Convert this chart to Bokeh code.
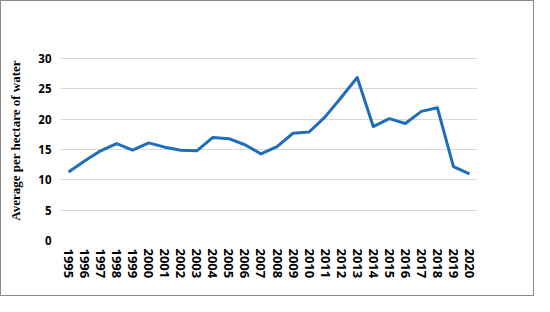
from bokeh.plotting import figure
from bokeh.models import Range1d, FixedTicker
from bokeh.embed import file_html
from bokeh.resources import INLINE

years = [str(y) for y in range(1995, 2021)]
values = [11.3, 13.1, 14.8, 16.0, 14.9, 16.1, 15.4, 14.9, 14.8, 17.0, 16.8, 15.8, 14.3,
          15.5, 17.7, 17.9, 20.4, 23.6, 26.9, 18.8, 20.1, 19.3, 21.3, 21.9, 12.2, 11.0]
y_ticks = [0, 5, 10, 15, 20, 25, 30]
y_label = "Average per hectare of water"

p = figure(width=534, height=296, x_range=years, y_range=Range1d(0, 33),
           output_backend="svg", toolbar_location=None,
           min_border_left=59, min_border_right=58, min_border_top=39, min_border_bottom=57)
p.styles = {"border": "1px solid #8a8a8a"}
p.outline_line_color = None
p.line(years, values, line_color="#1f6dbb", line_width=3, line_join="round")

p.xgrid.grid_line_color = None
p.ygrid.grid_line_color = "#d9d9d9"
p.ygrid.grid_line_width = 1
p.yaxis.ticker = FixedTicker(ticks=y_ticks)

for ax in (p.xaxis[0], p.yaxis[0]):
    ax.axis_line_color = None
    ax.major_tick_line_color = None
    ax.minor_tick_line_color = None
    ax.major_tick_out = 0
    ax.major_tick_in = 0
    ax.major_label_text_font = "Open Sans"
    ax.major_label_text_font_style = "bold"
    ax.major_label_text_color = "#000000"

p.xaxis.major_label_orientation = "vertical"
p.xaxis.major_label_text_font_size = "13px"
p.xaxis.major_label_standoff = 8
p.yaxis.major_label_text_font_size = "11.5px"
p.yaxis.major_label_standoff = 9
p.yaxis.axis_label = y_label
p.yaxis.axis_label_text_font = "Liberation Serif"
p.yaxis.axis_label_text_font_style = "bold"
p.yaxis.axis_label_text_font_size = "13px"
p.yaxis.axis_label_text_color = "#000000"
p.yaxis.axis_label_standoff = 12

open("out.html", "w").write(file_html(p, INLINE))
